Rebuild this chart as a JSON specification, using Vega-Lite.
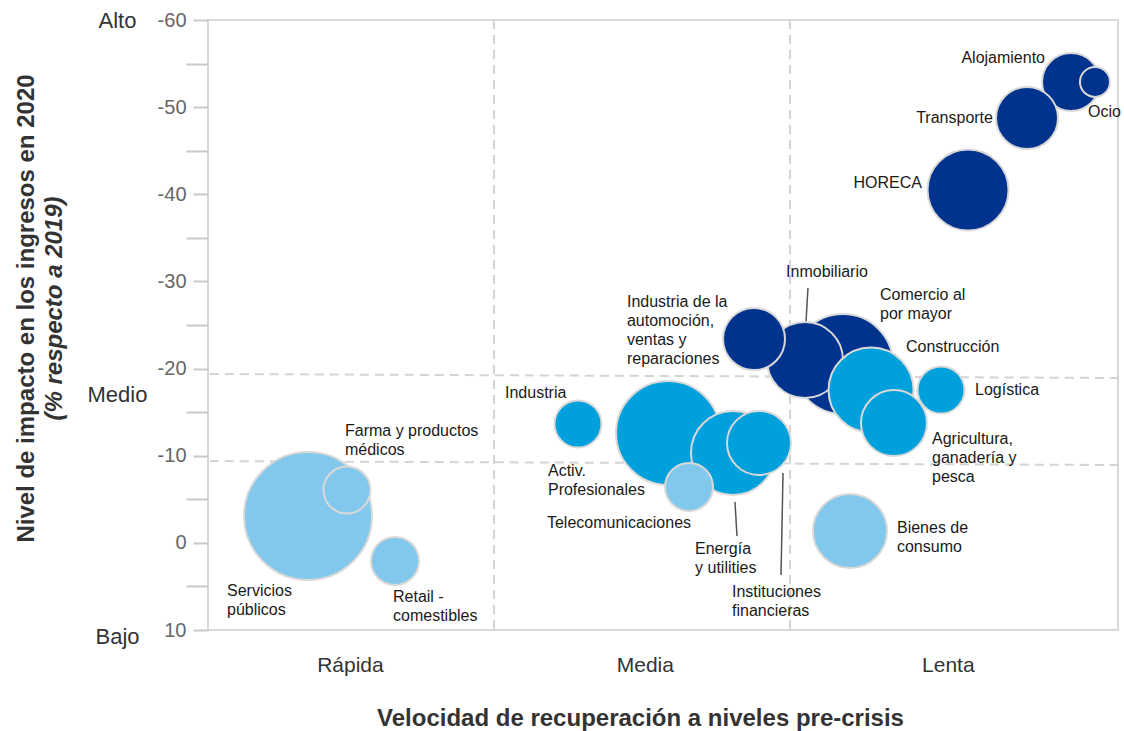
{
  "$schema": "https://vega.github.io/schema/vega-lite/v6.json",
  "width": 910,
  "height": 610,
  "autosize": {"type": "none"},
  "padding": {"left": 208, "top": 20, "right": 6, "bottom": 101},
  "background": "white",
  "config": {
    "view": {"stroke": "#d9d9d9", "strokeWidth": 2},
    "font": "Liberation Sans"
  },
  "datasets": {
    "sectores": [
      {"sector": "Servicios públicos", "velocidad": 10.99, "impacto": -3.08, "tamano": 40.96, "nivel": "Bajo"},
      {"sector": "Farma y productos médicos", "velocidad": 15.27, "impacto": -6.06, "tamano": 5.52, "nivel": "Bajo"},
      {"sector": "Retail - comestibles", "velocidad": 20.55, "impacto": 2.08, "tamano": 5.76, "nivel": "Bajo"},
      {"sector": "Industria", "velocidad": 40.66, "impacto": -13.64, "tamano": 5.52, "nivel": "Medio"},
      {"sector": "Activ. Profesionales", "velocidad": 50.55, "impacto": -12.61, "tamano": 27.04, "nivel": "Medio"},
      {"sector": "Energía y utilities", "velocidad": 57.69, "impacto": -10.31, "tamano": 17.64, "nivel": "Medio"},
      {"sector": "Instituciones financieras", "velocidad": 60.55, "impacto": -11.46, "tamano": 10.24, "nivel": "Medio"},
      {"sector": "Telecomunicaciones", "velocidad": 52.86, "impacto": -6.41, "tamano": 5.76, "nivel": "Bajo"},
      {"sector": "Comercio al por mayor", "velocidad": 69.78, "impacto": -20.52, "tamano": 25.0, "nivel": "Alto"},
      {"sector": "Inmobiliario", "velocidad": 65.6, "impacto": -20.98, "tamano": 14.44, "nivel": "Alto"},
      {"sector": "Industria de la automoción, ventas y reparaciones", "velocidad": 60.0, "impacto": -23.39, "tamano": 9.61, "nivel": "Alto"},
      {"sector": "Construcción", "velocidad": 72.86, "impacto": -17.54, "tamano": 18.06, "nivel": "Medio"},
      {"sector": "Agricultura, ganadería y pesca", "velocidad": 75.38, "impacto": -13.75, "tamano": 10.89, "nivel": "Medio"},
      {"sector": "Logística", "velocidad": 80.55, "impacto": -17.54, "tamano": 5.52, "nivel": "Medio"},
      {"sector": "Bienes de consumo", "velocidad": 70.55, "impacto": -1.36, "tamano": 13.69, "nivel": "Bajo"},
      {"sector": "HORECA", "velocidad": 83.52, "impacto": -40.49, "tamano": 16.4, "nivel": "Alto"},
      {"sector": "Alojamiento", "velocidad": 94.84, "impacto": -52.89, "tamano": 8.41, "nivel": "Alto"},
      {"sector": "Ocio", "velocidad": 97.47, "impacto": -52.89, "tamano": 2.25, "nivel": "Alto"},
      {"sector": "Transporte", "velocidad": 90.0, "impacto": -48.75, "tamano": 9.61, "nivel": "Alto"}
    ],
    "etiquetas": [
      {"texto": "Ocio", "x": 96.7, "y": -49.44, "lado": "izquierda"},
      {"texto": "Comercio al\npor mayor", "x": 73.85, "y": -28.44, "lado": "izquierda"},
      {"texto": "Construcción", "x": 76.7, "y": -22.47, "lado": "izquierda"},
      {"texto": "Logística", "x": 84.29, "y": -17.54, "lado": "izquierda"},
      {"texto": "Agricultura,\nganadería y\npesca", "x": 79.56, "y": -11.92, "lado": "izquierda"},
      {"texto": "Bienes de\nconsumo", "x": 75.71, "y": -1.7, "lado": "izquierda"},
      {"texto": "Industria de la\nautomoción,\nventas y\nreparaciones", "x": 46.04, "y": -27.64, "lado": "izquierda"},
      {"texto": "Industria", "x": 32.64, "y": -17.2, "lado": "izquierda"},
      {"texto": "Activ.\nProfesionales", "x": 37.36, "y": -8.24, "lado": "izquierda"},
      {"texto": "Telecomunicaciones", "x": 37.25, "y": -2.28, "lado": "izquierda"},
      {"texto": "Energía\ny utilities", "x": 53.52, "y": 0.71, "lado": "izquierda"},
      {"texto": "Instituciones\nfinancieras", "x": 57.58, "y": 5.64, "lado": "izquierda"},
      {"texto": "Farma y productos\nmédicos", "x": 15.05, "y": -12.83, "lado": "izquierda"},
      {"texto": "Servicios\npúblicos", "x": 2.09, "y": 5.53, "lado": "izquierda"},
      {"texto": "Retail -\ncomestibles", "x": 20.33, "y": 6.21, "lado": "izquierda"},
      {"texto": "Alojamiento", "x": 91.98, "y": -55.64, "lado": "derecha"},
      {"texto": "Transporte", "x": 86.26, "y": -48.75, "lado": "derecha"},
      {"texto": "HORECA", "x": 78.46, "y": -41.29, "lado": "derecha"},
      {"texto": "Inmobiliario", "x": 68.02, "y": -31.08, "lado": "centro"}
    ],
    "guias": [
      {"x_ini": 65.93, "y_ini": -29.24, "x_fin": 65.71, "y_fin": -25.23},
      {"x_ini": 57.91, "y_ini": -4.69, "x_fin": 58.13, "y_fin": -0.79},
      {"x_ini": 63.19, "y_ini": -8.01, "x_fin": 62.97, "y_fin": 3.69}
    ],
    "divisiones_v": [
      {"limite": 31.43},
      {"limite": 63.96}
    ],
    "divisiones_h": [
      {"x_ini": 0.2, "x_fin": 100, "y_ini": -19.38, "y_fin": -18.92},
      {"x_ini": 0.2, "x_fin": 100, "y_ini": -9.39, "y_fin": -8.93}
    ]
  },
  "layer": [
    {
      "data": {"name": "divisiones_v"},
      "mark": {"type": "rule", "color": "#d4d4d4", "strokeWidth": 2, "strokeDash": [9, 6]},
      "encoding": {
        "x": {
          "field": "limite", "type": "quantitative",
          "scale": {"domain": [0, 100], "nice": false, "zero": false},
          "axis": {
            "values": [15.6, 48.0, 81.3],
            "labelExpr": "datum.value < 30 ? 'Rápida' : datum.value < 60 ? 'Media' : 'Lenta'",
            "domain": false, "ticks": false, "grid": false,
            "labelFontSize": 21, "labelColor": "#333333", "labelPadding": 24, "labelFlush": false,
            "labelFont": "Liberation Sans",
            "title": "Velocidad de recuperación a niveles pre-crisis",
            "titleFont": "Liberation Sans", "titleFontSize": 24, "titleFontWeight": "bold", "titleColor": "#333333",
            "titleX": 432, "titleY": 88, "titleBaseline": "middle", "titleAlign": "center"
          }
        }
      }
    },
    {
      "data": {"name": "divisiones_h"},
      "mark": {"type": "rule", "color": "#d4d4d4", "strokeWidth": 2, "strokeDash": [9, 6]},
      "encoding": {
        "x": {"field": "x_ini", "type": "quantitative", "scale": {"domain": [0, 100], "nice": false, "zero": false}},
        "x2": {"field": "x_fin"},
        "y": {
          "field": "y_ini", "type": "quantitative",
          "scale": {"domain": [-60, 10], "nice": false, "zero": false, "reverse": true},
          "axis": {
            "orient": "left",
            "values": [-60, -17, 10],
            "labelExpr": "datum.value === -60 ? 'Alto' : datum.value === 10 ? 'Bajo' : 'Medio'",
            "domain": false, "ticks": false, "grid": false,
            "labelAlign": "center", "labelBaseline": "middle", "labelPadding": 91,
            "labelFont": "Liberation Sans", "labelFontSize": 22, "labelColor": "#333333",
            "labelOffset": {"condition": {"test": "datum.value === 10", "value": 6}, "value": 0},
            "labelOverlap": false, "labelBound": false,
            "title": "Nivel de impacto en los ingresos en 2020",
            "titleFont": "Liberation Sans", "titleFontSize": 24, "titleFontWeight": "bold", "titleColor": "#333333",
            "titleAngle": -90, "titleX": -182, "titleY": 288, "titleBaseline": "middle", "titleAlign": "center"
          }
        },
        "y2": {"field": "y_fin"}
      }
    },
    {
      "data": {"name": "guias"},
      "mark": {"type": "rule", "color": "#555555", "strokeWidth": 1.5},
      "encoding": {
        "x": {"field": "x_ini", "type": "quantitative", "scale": {"domain": [0, 100], "nice": false, "zero": false}},
        "x2": {"field": "x_fin"},
        "y": {"field": "y_ini", "type": "quantitative", "scale": {"domain": [-60, 10], "nice": false, "zero": false, "reverse": true}, "axis": null},
        "y2": {"field": "y_fin"}
      }
    },
    {
      "data": {"name": "sectores"},
      "mark": {"type": "point", "shape": "circle", "filled": true, "opacity": 1, "stroke": "#d9d9d9", "strokeWidth": 2},
      "encoding": {
        "x": {"field": "velocidad", "type": "quantitative", "scale": {"domain": [0, 100], "nice": false, "zero": false}},
        "y": {
          "field": "impacto", "type": "quantitative",
          "scale": {"domain": [-60, 10], "nice": false, "zero": false, "reverse": true},
          "axis": {
            "orient": "left",
            "values": [-60, -55, -50, -45, -40, -35, -30, -25, -20, -15, -10, -5, 0, 5, 10],
            "labelExpr": "datum.value % 10 === 0 ? toString(datum.value) : ''",
            "domain": false, "grid": false, "ticks": true,
            "tickColor": "#c8c8c8", "tickWidth": 2,
            "tickSize": {"condition": {"test": "datum.value % 10 === 0", "value": 15}, "value": 22},
            "labelFont": "Liberation Sans", "labelFontSize": 20, "labelColor": "#666666", "labelPadding": 7,
            "labelOverlap": false, "labelBound": false,
            "title": "(% respecto a 2019)",
            "titleFont": "Liberation Sans", "titleFontSize": 24, "titleFontWeight": "bold", "titleFontStyle": "italic", "titleColor": "#333333",
            "titleAngle": -90, "titleX": -154, "titleY": 288, "titleBaseline": "middle", "titleAlign": "center"
          }
        },
        "size": {"field": "tamano", "type": "quantitative", "scale": {"type": "linear", "domain": [0, 41], "range": [0, 16400]}, "legend": null},
        "color": {"field": "nivel", "type": "nominal", "scale": {"domain": ["Alto", "Medio", "Bajo"], "range": ["#00338D", "#00A0DC", "#82C8EC"]}, "legend": null}
      }
    },
    {
      "data": {"name": "etiquetas"},
      "transform": [{"filter": "datum.lado === 'izquierda'"}],
      "mark": {"type": "text", "align": "left", "baseline": "middle", "font": "Liberation Sans", "fontSize": 16, "lineHeight": 19, "lineBreak": "\n", "color": "#1a1a1a"},
      "encoding": {
        "x": {"field": "x", "type": "quantitative", "scale": {"domain": [0, 100], "nice": false, "zero": false}},
        "y": {"field": "y", "type": "quantitative", "scale": {"domain": [-60, 10], "nice": false, "zero": false, "reverse": true}, "axis": null},
        "text": {"field": "texto", "type": "nominal"}
      }
    },
    {
      "data": {"name": "etiquetas"},
      "transform": [{"filter": "datum.lado === 'derecha'"}],
      "mark": {"type": "text", "align": "right", "baseline": "middle", "font": "Liberation Sans", "fontSize": 16, "lineHeight": 19, "lineBreak": "\n", "color": "#1a1a1a"},
      "encoding": {
        "x": {"field": "x", "type": "quantitative", "scale": {"domain": [0, 100], "nice": false, "zero": false}},
        "y": {"field": "y", "type": "quantitative", "scale": {"domain": [-60, 10], "nice": false, "zero": false, "reverse": true}, "axis": null},
        "text": {"field": "texto", "type": "nominal"}
      }
    },
    {
      "data": {"name": "etiquetas"},
      "transform": [{"filter": "datum.lado === 'centro'"}],
      "mark": {"type": "text", "align": "center", "baseline": "middle", "font": "Liberation Sans", "fontSize": 16, "lineHeight": 19, "lineBreak": "\n", "color": "#1a1a1a"},
      "encoding": {
        "x": {"field": "x", "type": "quantitative", "scale": {"domain": [0, 100], "nice": false, "zero": false}},
        "y": {"field": "y", "type": "quantitative", "scale": {"domain": [-60, 10], "nice": false, "zero": false, "reverse": true}, "axis": null},
        "text": {"field": "texto", "type": "nominal"}
      }
    }
  ],
  "resolve": {"axis": {"y": "independent"}}
}
